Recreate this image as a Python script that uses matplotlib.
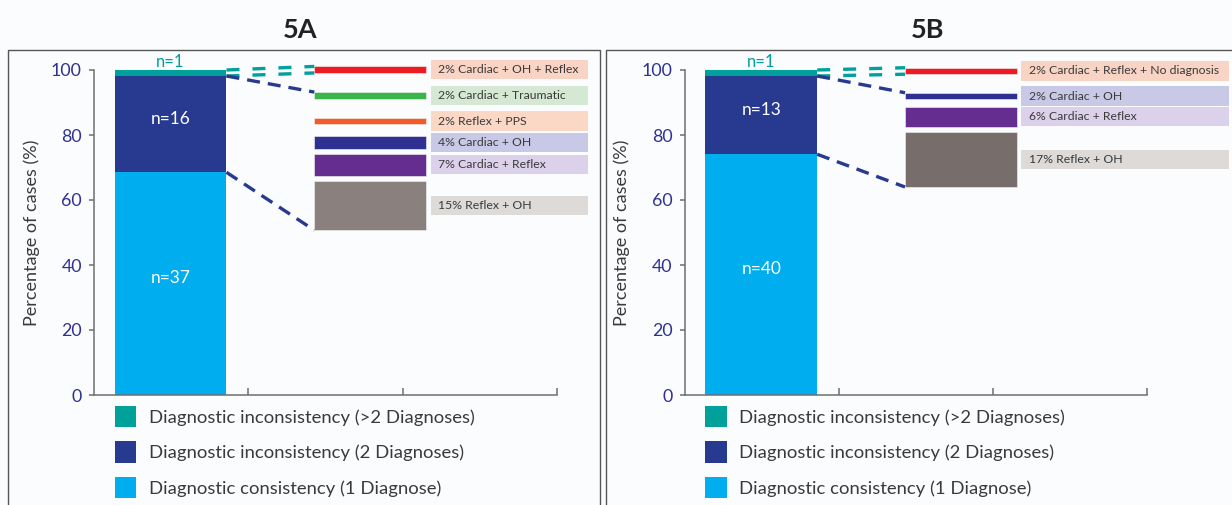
import matplotlib
matplotlib.use("Agg")
import matplotlib.pyplot as plt
from matplotlib.patches import Rectangle

plt.rcParams['font.family'] = ['Lato', 'DejaVu Sans']

# ---------------- data ----------------
panel_titles = ["5A", "5B"]

# cases per group: consistency (1 diagnose), inconsistency (2), inconsistency (>2)
counts_a = [37, 16, 1]
counts_b = [40, 13, 1]

legend_labels = ["Diagnostic inconsistency (>2 Diagnoses)",
                 "Diagnostic inconsistency (2 Diagnoses)",
                 "Diagnostic consistency (1 Diagnose)"]

# breakdown of the inconsistent cases (top to bottom)
combo_labels_a = ["Cardiac + OH + Reflex", "Cardiac + Traumatic", "Reflex + PPS",
                  "Cardiac + OH", "Cardiac + Reflex", "Reflex + OH"]
combo_pct_a = [2, 2, 2, 4, 7, 15]

combo_labels_b = ["Cardiac + Reflex + No diagnosis", "Cardiac + OH",
                  "Cardiac + Reflex", "Reflex + OH"]
combo_pct_b = [2, 2, 6, 17]

# ---------------- styling ----------------
BG = "#fbfcfd"
C_ONE = "#00aeef"
C_TWO = "#283a90"
C_MORE = "#00a19a"
TEXT = "#3a3a3a"
TICK_TXT = "#2e3192"
SPINE = "#6e6e6e"

bar_colors_a = ["#ed1c24", "#39b54a", "#f15a2b", "#2e3192", "#662d91", "#8a807d"]
box_colors_a = ["#f9d4c4", "#d4e8d4", "#fbd8c6", "#c7c9e7", "#dcd1ea", "#dddad8"]
bar_colors_b = ["#ed1c24", "#2e3192", "#662d91", "#776d6a"]
box_colors_b = ["#f9d4c4", "#c7c9e7", "#dcd1ea", "#dddad8"]

# vertical layout of the breakdown column: top edge and the gaps between bars
stack_top_a, gaps_a = 101.1, [5.9, 5.9, 3.5, 1.5, 1.6]
stack_top_b, gaps_b = 100.7, [5.7, 2.4, 1.6]

MAIN_X, ZOOM_X, BAR_W = 0.495, 1.79, 0.725
BOX_H = 5.9

W, H = 1232, 505
fig = plt.figure(figsize=(W / 100, H / 100), dpi=100, facecolor=BG)


def draw_panel(left_px, frame, title_x, title, counts, labels, pcts,
               bar_cols, box_cols, top, gaps, box_w):
    ax = fig.add_axes([left_px / W, 110 / H, 462.4 / W, 325 / H])
    ax.set_facecolor(BG)
    ax.set_xlim(0, 3)
    ax.set_ylim(0, 100)

    total = sum(counts)
    pct = [100 * c / total for c in counts]

    # stacked main bar
    b1 = ax.bar(MAIN_X, pct[0], BAR_W, color=C_ONE)
    b2 = ax.bar(MAIN_X, pct[1], BAR_W, bottom=pct[0], color=C_TWO)
    b3 = ax.bar(MAIN_X, pct[2], BAR_W, bottom=pct[0] + pct[1], color=C_MORE)
    for cont in (b1, b2, b3):
        for p in cont:
            p.set_clip_on(False)

    ax.text(MAIN_X, pct[0] / 2 + 1.7, f"n={counts[0]}", color="white",
            ha="center", va="center", fontsize=12.5)
    ax.text(MAIN_X, pct[0] + pct[1] / 2 + 1.7, f"n={counts[1]}", color="white",
            ha="center", va="center", fontsize=12.5)
    ax.text(MAIN_X, 100.0, f"n={counts[2]}", color=C_MORE,
            ha="center", va="bottom", fontsize=12)

    # breakdown column
    bottoms = []
    y = top
    for i, v in enumerate(pcts):
        bottoms.append(y - v)
        if i < len(gaps):
            y = y - v - gaps[i]
    zb = ax.bar([ZOOM_X] * len(pcts), pcts, BAR_W, bottom=bottoms,
                color=bar_cols, edgecolor="#f4f4f4", linewidth=0.4)
    for p in zb:
        p.set_clip_on(False)

    box_x = ZOOM_X + BAR_W / 2 + 0.03
    for v, b, lab, bc in zip(pcts, bottoms, labels, box_cols):
        yc = b + v / 2
        ax.add_patch(Rectangle((box_x, yc - BOX_H / 2), box_w, BOX_H,
                               facecolor=bc, edgecolor="none", clip_on=False))
        ax.text(box_x + 0.05, yc, f"{v}% {lab}", ha="left", va="center",
                fontsize=8.8, color=TEXT, clip_on=False)

    # connector lines
    xr = MAIN_X + BAR_W / 2
    xl = ZOOM_X - BAR_W / 2
    top_main = pct[0] + pct[1]
    kw = dict(lw=2.4, clip_on=False, dash_capstyle="butt")
    ax.plot([xr, xl], [100, bottoms[0] + pcts[0]], color=C_MORE, dashes=(3.9, 3.9), **kw)
    ax.plot([xr, xl], [top_main, bottoms[0]], color=C_MORE, dashes=(3.9, 3.9), **kw)
    ax.plot([xr, xl], [top_main, bottoms[1] + pcts[1]], color=C_TWO, dashes=(3.9, 2.4), **kw)
    ax.plot([xr, xl], [pct[0], bottoms[-1]], color=C_TWO, dashes=(3.9, 2.4), **kw)

    # axes styling
    for s in ("top", "right"):
        ax.spines[s].set_visible(False)
    for s in ("left", "bottom"):
        ax.spines[s].set_color(SPINE)
        ax.spines[s].set_linewidth(1.1)
    ax.set_yticks([0, 20, 40, 60, 80, 100])
    ax.tick_params(axis="y", direction="out", length=3.5, width=1.1, color=SPINE,
                   labelsize=12.8, labelcolor=TICK_TXT, pad=5.5)
    ax.set_xticks([1, 2, 3])
    ax.set_xticklabels([])
    ax.tick_params(axis="x", direction="in", length=5, width=1.1, color=SPINE)
    ax.set_ylabel("Percentage of cases (%)", fontsize=13, color=TEXT)
    ax.yaxis.set_label_coords(-0.118, 0.5)

    leg_x = (MAIN_X - BAR_W / 2) / 3
    ax.legend([b3, b2, b1], legend_labels, loc="upper left",
              bbox_to_anchor=(leg_x, -10.7 / 325), frameon=False,
              fontsize=13.3, labelcolor=TEXT, handlelength=1.16,
              handleheight=1.41, labelspacing=0.76, handletextpad=0.68,
              borderpad=0, borderaxespad=0)

    # panel frame and title
    x0, x1 = frame
    fig.add_artist(Rectangle((x0 / W, -0.1), (x1 - x0) / W, (H - 50) / H + 0.1,
                             transform=fig.transFigure, fill=False,
                             edgecolor="#555555", linewidth=1.0, clip_on=False))
    fig.text(title_x / W, 1 - 30 / H, title, ha="center", va="center",
             fontsize=19.5, fontweight="bold", color="#222222")


draw_panel(94.3, (8.3, 599.5), 300, panel_titles[0], counts_a, combo_labels_a,
           combo_pct_a, bar_colors_a, box_colors_a, stack_top_a, gaps_a, 1.02)
draw_panel(685, (606, 1260), 928, panel_titles[1], counts_b, combo_labels_b,
           combo_pct_b, bar_colors_b, box_colors_b, stack_top_b, gaps_b, 1.345)

fig.savefig("out.png", dpi=100, facecolor=BG)
